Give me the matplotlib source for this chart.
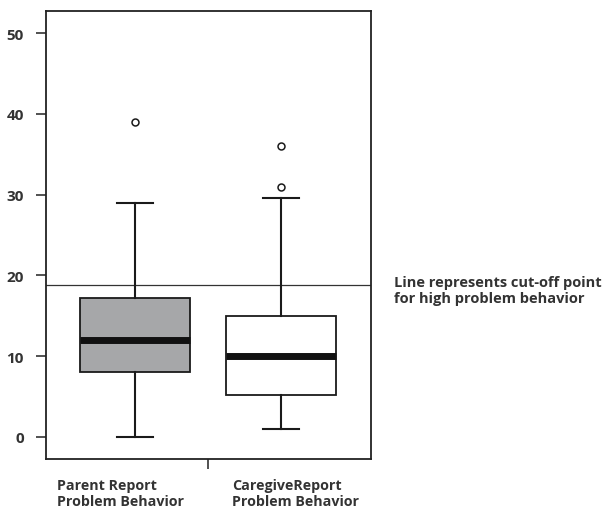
import matplotlib.pyplot as plt

plt.rcParams['font.family'] = ['Open Sans', 'DejaVu Sans']

# five-number summaries read per group
groups = ['Parent Report\nProblem Behavior', 'CaregiveReport\nProblem Behavior']
whisker_low = [0, 1]
q1 = [8.0, 5.2]
median = [12.0, 10.0]
q3 = [17.2, 15.0]
whisker_high = [29.0, 29.6]
outliers = [[39], [31, 36]]
box_colors = ['#a6a7a9', 'white']
cutoff = 18.8

stats = []
for i in range(len(groups)):
    stats.append({'whislo': whisker_low[i], 'q1': q1[i], 'med': median[i],
                  'q3': q3[i], 'whishi': whisker_high[i], 'fliers': outliers[i]})

fig = plt.figure(figsize=(6.06, 5.10), dpi=100)
ax = fig.add_axes([46 / 606, 50 / 510, 325 / 606, 448 / 510])

bp = ax.bxp(stats, positions=[1, 2], widths=0.76, capwidths=0.25,
            patch_artist=True, showfliers=True,
            boxprops=dict(linewidth=1.3, edgecolor='#1a1a1a'),
            medianprops=dict(color='#111111', linewidth=5, solid_capstyle='butt'),
            whiskerprops=dict(color='#1a1a1a', linewidth=1.5),
            capprops=dict(color='#1a1a1a', linewidth=1.5),
            flierprops=dict(marker='o', markersize=5, markerfacecolor='white',
                            markeredgecolor='#1a1a1a', markeredgewidth=1.1))
for patch, c in zip(bp['boxes'], box_colors):
    patch.set_facecolor(c)

ax.axhline(cutoff, color='#333333', linewidth=0.9, zorder=0)

ax.set_xlim(0.39, 2.617)
ax.set_ylim(-2.76, 52.75)
ax.set_yticks([0, 10, 20, 30, 40, 50])
ax.set_xticks([1.5])
ax.set_xticklabels([''])
ax.tick_params(axis='both', direction='out', length=7, width=1.2, color='#333333',
               labelsize=11, labelcolor='#333333')
for lab in ax.get_yticklabels():
    lab.set_fontweight('bold')
ax.tick_params(axis='y', pad=9)
for s in ax.spines.values():
    s.set_linewidth(1.3)
    s.set_color('#222222')

# category names sit left-aligned under each box
label_x = [57, 232]
for x, g in zip(label_x, groups):
    fig.text(x / 606, 1 - 479 / 510, g, ha='left', va='top', fontsize=10.3,
             fontweight='bold', color='#333333', linespacing=1.2)

fig.text(394 / 606, 1 - 291 / 510, 'Line represents cut-off point\nfor high problem behavior',
         ha='left', va='center', fontsize=10.5, fontweight='bold', color='#333333',
         linespacing=1.15)

fig.savefig('out.png', dpi=100)
